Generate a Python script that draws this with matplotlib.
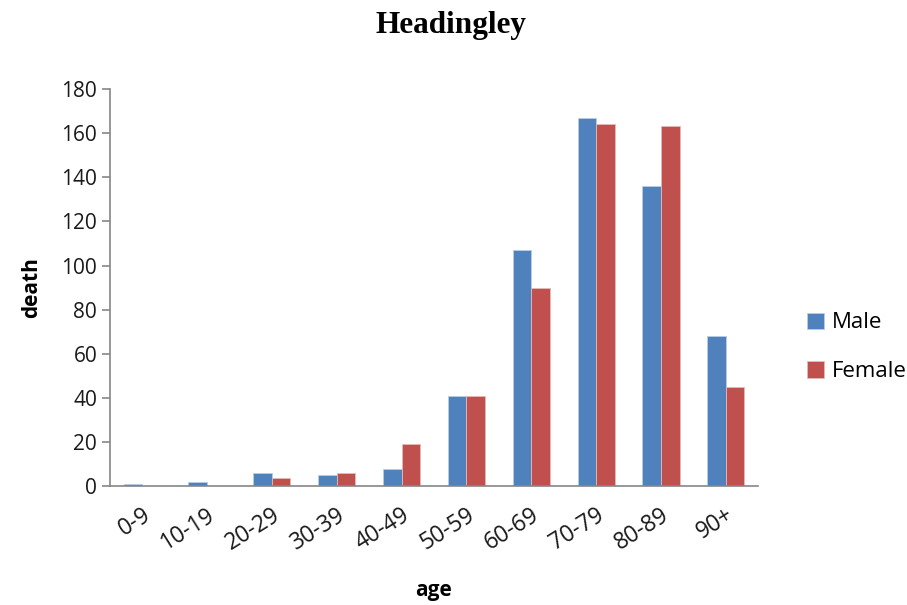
import numpy as np
import matplotlib.pyplot as plt

ages = ['0-9', '10-19', '20-29', '30-39', '40-49', '50-59', '60-69', '70-79', '80-89', '90+']
male = [1, 2, 6, 5, 8, 41, 107, 167, 136, 68]
female = [0, 0, 4, 6, 19, 41, 90, 164, 163, 45]

blue = '#4F81BD'
red = '#C0504D'
grey = '#868686'

fig = plt.figure(figsize=(9.07, 6.05), dpi=100)
ax = fig.add_axes([0.121, 0.196, 0.715, 0.657])

x = np.arange(len(ages))
width = 0.286
ax.bar(x - width/2, male, width, color=blue, edgecolor='#B9CDE5', linewidth=0.6, label='Male')
ax.bar(x + width/2, female, width, color=red, edgecolor='#E6B9B8', linewidth=0.6, label='Female')

ax.set_xlim(-0.5, len(ages) - 0.5)
ax.set_ylim(0, 180)
ax.set_yticks(range(0, 181, 20))

for side in ['top', 'right']:
    ax.spines[side].set_visible(False)
for side in ['left', 'bottom']:
    ax.spines[side].set_color(grey)
    ax.spines[side].set_linewidth(1.2)

ax.tick_params(axis='y', direction='out', length=6, width=1.2, color=grey,
               labelsize=15, pad=3)
ax.tick_params(axis='x', length=0, labelsize=16.5, pad=12)
ax.set_xticks(x)
ax.set_xticklabels(ages, rotation=32, ha='right', rotation_mode='anchor')
for lbl in ax.get_xticklabels() + ax.get_yticklabels():
    lbl.set_fontfamily('Open Sans')
    lbl.set_color('#1a1a1a')

ax.set_ylabel('death', fontsize=15, fontweight='bold', fontfamily='Open Sans', labelpad=14)
ax.set_xlabel('age', fontsize=15, fontweight='bold', fontfamily='Open Sans', labelpad=18)

fig.text(0.497, 0.958, 'Headingley', ha='center', va='center', fontsize=22.5,
         fontweight='bold', fontfamily='Liberation Serif')

leg = ax.legend(loc='center left', bbox_to_anchor=(1.045, 0.35), frameon=False,
                prop={'family': 'Open Sans', 'size': 16}, handlelength=0.75,
                handleheight=0.75, handletextpad=0.35, labelspacing=1.25)

fig.savefig('out.png', dpi=100)
